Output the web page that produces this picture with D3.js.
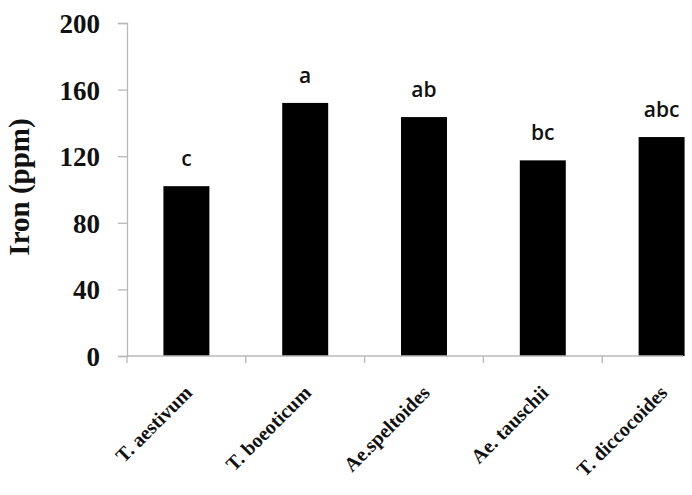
<!DOCTYPE html>
<html><head><meta charset="utf-8">
<script src="https://cdn.jsdelivr.net/npm/d3@7"></script>
<style>body{margin:0;background:#fff}svg{display:block}</style>
</head><body>
<svg id="c" width="692" height="495"></svg>
<script>
const categories = ["T. aestivum", "T. boeoticum", "Ae.speltoides", "Ae. tauschii", "T. diccocoides"];
const ironValues = [102, 152, 143.5, 117.5, 131.5];
const letters = ["c", "a", "ab", "bc", "abc"];
const yTicks = [0, 40, 80, 120, 160, 200];

const svg = d3.select("#c");
const x0 = 127, step = 118.8;
const x = d3.scaleBand().domain(categories).range([x0, x0 + step * categories.length]).paddingInner(0.613).paddingOuter(0.3065);
const y = d3.scaleLinear().domain([0, 200]).range([356, 23]);
const grey = "#b8b8b8";

// y axis
const yAxis = svg.append("g").attr("transform", `translate(${x0},0)`)
  .call(d3.axisLeft(y).tickValues(yTicks).tickSize(9).tickPadding(18).tickFormat(d3.format("d")));
yAxis.select(".domain").attr("stroke", grey).attr("stroke-width", 1.3);
yAxis.selectAll(".tick line").attr("stroke", grey).attr("stroke-width", 1.3);
yAxis.selectAll(".tick text").attr("font-family", "Liberation Serif, Times New Roman, serif")
  .attr("font-weight", "bold").attr("font-size", 27).attr("fill", "#111").attr("dy", "0.35em");

// bars
svg.append("g").selectAll("rect").data(categories).join("rect")
  .attr("x", d => x(d)).attr("width", x.bandwidth())
  .attr("y", (d, i) => y(ironValues[i])).attr("height", (d, i) => y(0) - y(ironValues[i]))
  .attr("fill", "#000");

// x axis
const xg = svg.append("g").attr("transform", `translate(0,${y(0)})`);
xg.append("line").attr("x1", x0).attr("x2", 683).attr("stroke", grey).attr("stroke-width", 1.3);
const bounds = categories.map((d, i) => x0 + i * step);
xg.selectAll("line.tk").data(bounds).join("line").attr("class", "tk")
  .attr("x1", d => d).attr("x2", d => d).attr("y1", 0).attr("y2", 7)
  .attr("stroke", grey).attr("stroke-width", 1.3);
xg.selectAll("text").data(categories).join("text")
  .attr("transform", d => `translate(${x(d) + x.bandwidth() / 2 + 7},${38}) rotate(-45)`)
  .attr("text-anchor", "end")
  .attr("font-family", "Liberation Serif, Times New Roman, serif").attr("font-weight", "bold")
  .attr("font-size", 20).attr("fill", "#111").text(d => d);

// letters
svg.append("g").selectAll("text").data(categories).join("text")
  .attr("x", d => x(d) + x.bandwidth() / 2).attr("y", (d, i) => y(ironValues[i]) - 20)
  .attr("text-anchor", "middle").attr("font-family", "Open Sans, Lato, sans-serif").attr("font-weight", 600)
  .attr("font-size", 21).attr("fill", "#111").text((d, i) => letters[i]);

// y label
svg.append("text").attr("transform", "translate(29,187) rotate(-90)").attr("text-anchor", "middle")
  .attr("font-family", "Liberation Serif, Times New Roman, serif").attr("font-weight", "bold")
  .attr("font-size", 29).attr("fill", "#111").text("Iron (ppm)");
</script>
</body></html>
